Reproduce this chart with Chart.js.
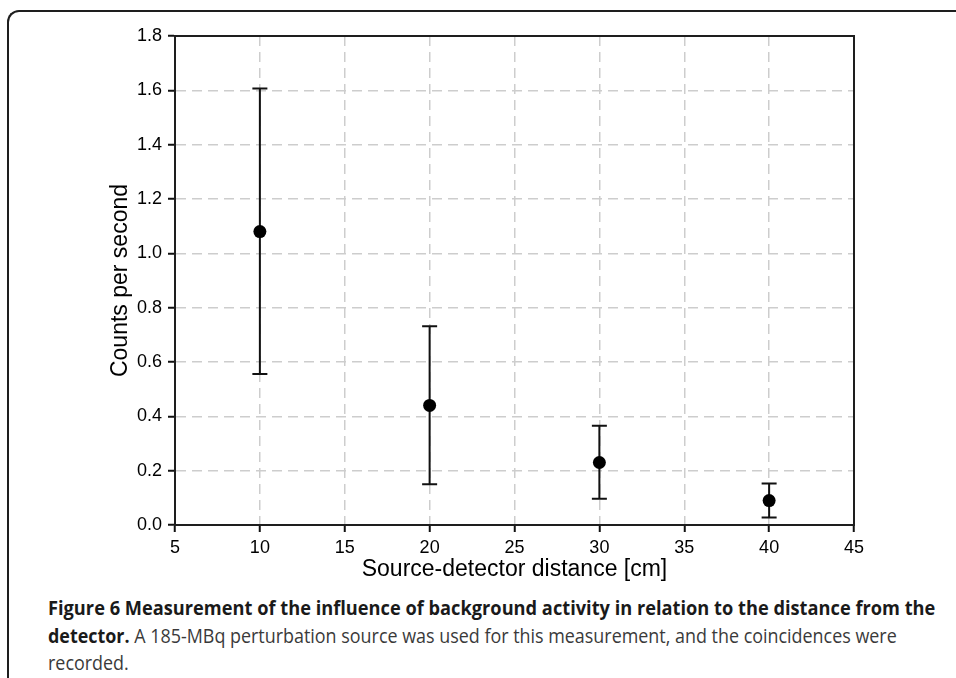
<!DOCTYPE html>
<html>
<head>
<meta charset="utf-8">
<script src="https://cdn.jsdelivr.net/npm/chart.js@4/dist/chart.umd.min.js"></script>
<style>
  html, body { margin: 0; padding: 0; background: #fff; width: 956px; height: 678px; overflow: hidden; }
  #frame { position: absolute; left: 7px; top: 10px; width: 2000px; height: 2000px;
           border-top: 2px solid #1e1e1e; border-left: 2px solid #1e1e1e; border-top-left-radius: 12px; box-sizing: border-box; }
  #wrap { position: absolute; left: 0; top: 0; width: 956px; height: 585px; }
  .cap { position: absolute; left: 48px; width: max-content; font-family: "Open Sans", sans-serif; font-size: 20px; line-height: 20px;
         color: #3a3a3a; white-space: nowrap; transform-origin: 0 0; }
  .cap b { color: #1a1a1a; font-weight: 700; }
</style>
</head>
<body>
<div id="frame"></div>
<div id="wrap"><canvas id="c" width="956" height="585"></canvas></div>
<div class="cap" id="l1" style="top:598px"><b>Figure 6 Measurement of the influence of background activity in relation to the distance from the</b></div>
<div class="cap" id="l2" style="top:626px"><b>detector.</b> A 185-MBq perturbation source was used for this measurement, and the coincidences were</div>
<div class="cap" id="l3" style="top:653px">recorded.</div>
<script>
// ---- data ----
const distances = [10, 20, 30, 40];
const counts    = [1.08, 0.44, 0.23, 0.09];
const upperErr  = [1.607, 0.732, 0.365, 0.153];
const lowerErr  = [0.556, 0.150, 0.097, 0.028];
const xTicks = [5, 10, 15, 20, 25, 30, 35, 40, 45];
const yTicks = [0.0, 0.2, 0.4, 0.6, 0.8, 1.0, 1.2, 1.4, 1.6, 1.8];
const xTitle = 'Source-detector distance [cm]';
const yTitle = 'Counts per second';

const errorBars = {
  id: 'errorBars',
  beforeDatasetsDraw(chart) {
    const {ctx, chartArea: a, scales: {x, y}} = chart;
    ctx.save();
    // plot box (top & right edges)
    ctx.strokeStyle = '#1e1e1e';
    ctx.lineWidth = 2;
    ctx.strokeRect(a.left, a.top, a.right - a.left, a.bottom - a.top);
    ctx.strokeStyle = '#111';
    ctx.lineWidth = 2;
    distances.forEach((d, i) => {
      const px = x.getPixelForValue(d);
      const pu = y.getPixelForValue(upperErr[i]);
      const pl = y.getPixelForValue(lowerErr[i]);
      ctx.beginPath();
      ctx.moveTo(px, pu); ctx.lineTo(px, pl);
      ctx.moveTo(px - 7.5, pu); ctx.lineTo(px + 7.5, pu);
      ctx.moveTo(px - 7.5, pl); ctx.lineTo(px + 7.5, pl);
      ctx.stroke();
    });
    ctx.restore();
  }
};

function gridColor(ticks) {
  return (c) => {
    const v = c.tick ? c.tick.value : null;
    if (v === ticks[0] || v === ticks[ticks.length - 1]) return 'rgba(0,0,0,0)';
    return '#cdcdcd';
  };
}

const tickFont = { family: '"Liberation Sans", Arial, sans-serif', size: 18 };
const titleFont = { family: '"Liberation Sans", Arial, sans-serif', size: 23 };

new Chart(document.getElementById('c'), {
  type: 'scatter',
  data: {
    datasets: [{
      data: distances.map((d, i) => ({ x: d, y: counts[i] })),
      backgroundColor: '#000',
      borderColor: '#000',
      borderWidth: 0,
      pointRadius: 6.5,
      pointHoverRadius: 6.5
    }]
  },
  options: {
    responsive: false,
    animation: false,
    events: [],
    layout: { padding: { left: 0, top: 36, right: 102, bottom: 0 } },
    plugins: { legend: { display: false }, tooltip: { enabled: false } },
    scales: {
      x: {
        type: 'linear',
        min: xTicks[0], max: xTicks[xTicks.length - 1],
        afterBuildTicks: (s) => { s.ticks = xTicks.map(v => ({ value: v })); },
        afterFit: (s) => { s.height = 60; },
        ticks: { color: '#000', font: tickFont, padding: 5, maxRotation: 0, autoSkip: false,
                 callback: (v) => String(v) },
        grid: { color: gridColor(xTicks), lineWidth: 1.5, tickLength: 7, tickColor: '#111', tickWidth: 2, tickBorderDash: [] },
        border: { display: true, color: '#1e1e1e', width: 2, dash: [10, 6] },
        title: { display: true, text: xTitle, color: '#000', font: titleFont, padding: { top: 0, bottom: 2 } }
      },
      y: {
        type: 'linear',
        min: yTicks[0], max: yTicks[yTicks.length - 1],
        afterBuildTicks: (s) => { s.ticks = yTicks.map(v => ({ value: v })); },
        afterFit: (s) => { s.width = 175; },
        ticks: { color: '#000', font: tickFont, padding: 6, autoSkip: false,
                 callback: (v) => Number(v).toFixed(1) },
        grid: { color: gridColor(yTicks), lineWidth: 1.5, tickLength: 7, tickColor: '#111', tickWidth: 2, tickBorderDash: [] },
        border: { display: true, color: '#1e1e1e', width: 2, dash: [10, 6] },
        title: { display: true, text: yTitle, color: '#000', font: titleFont, padding: { top: 107, bottom: 0 } }
      }
    }
  },
  plugins: [errorBars]
});

// fit caption lines to the reference widths
function fit() {
  const targets = { l1: 887, l2: 849 };
  let k2 = 1;
  for (const id of ['l1', 'l2']) {
    const el = document.getElementById(id);
    el.style.transform = 'none';
    const w = el.scrollWidth || el.getBoundingClientRect().width;
    const k = targets[id] / w;
    el.style.transform = 'scaleX(' + k + ')';
    if (id === 'l2') k2 = k;
  }
  document.getElementById('l3').style.transform = 'scaleX(' + k2 + ')';
}
fit();
if (document.fonts && document.fonts.ready) { document.fonts.ready.then(fit); }
</script>
</body>
</html>
